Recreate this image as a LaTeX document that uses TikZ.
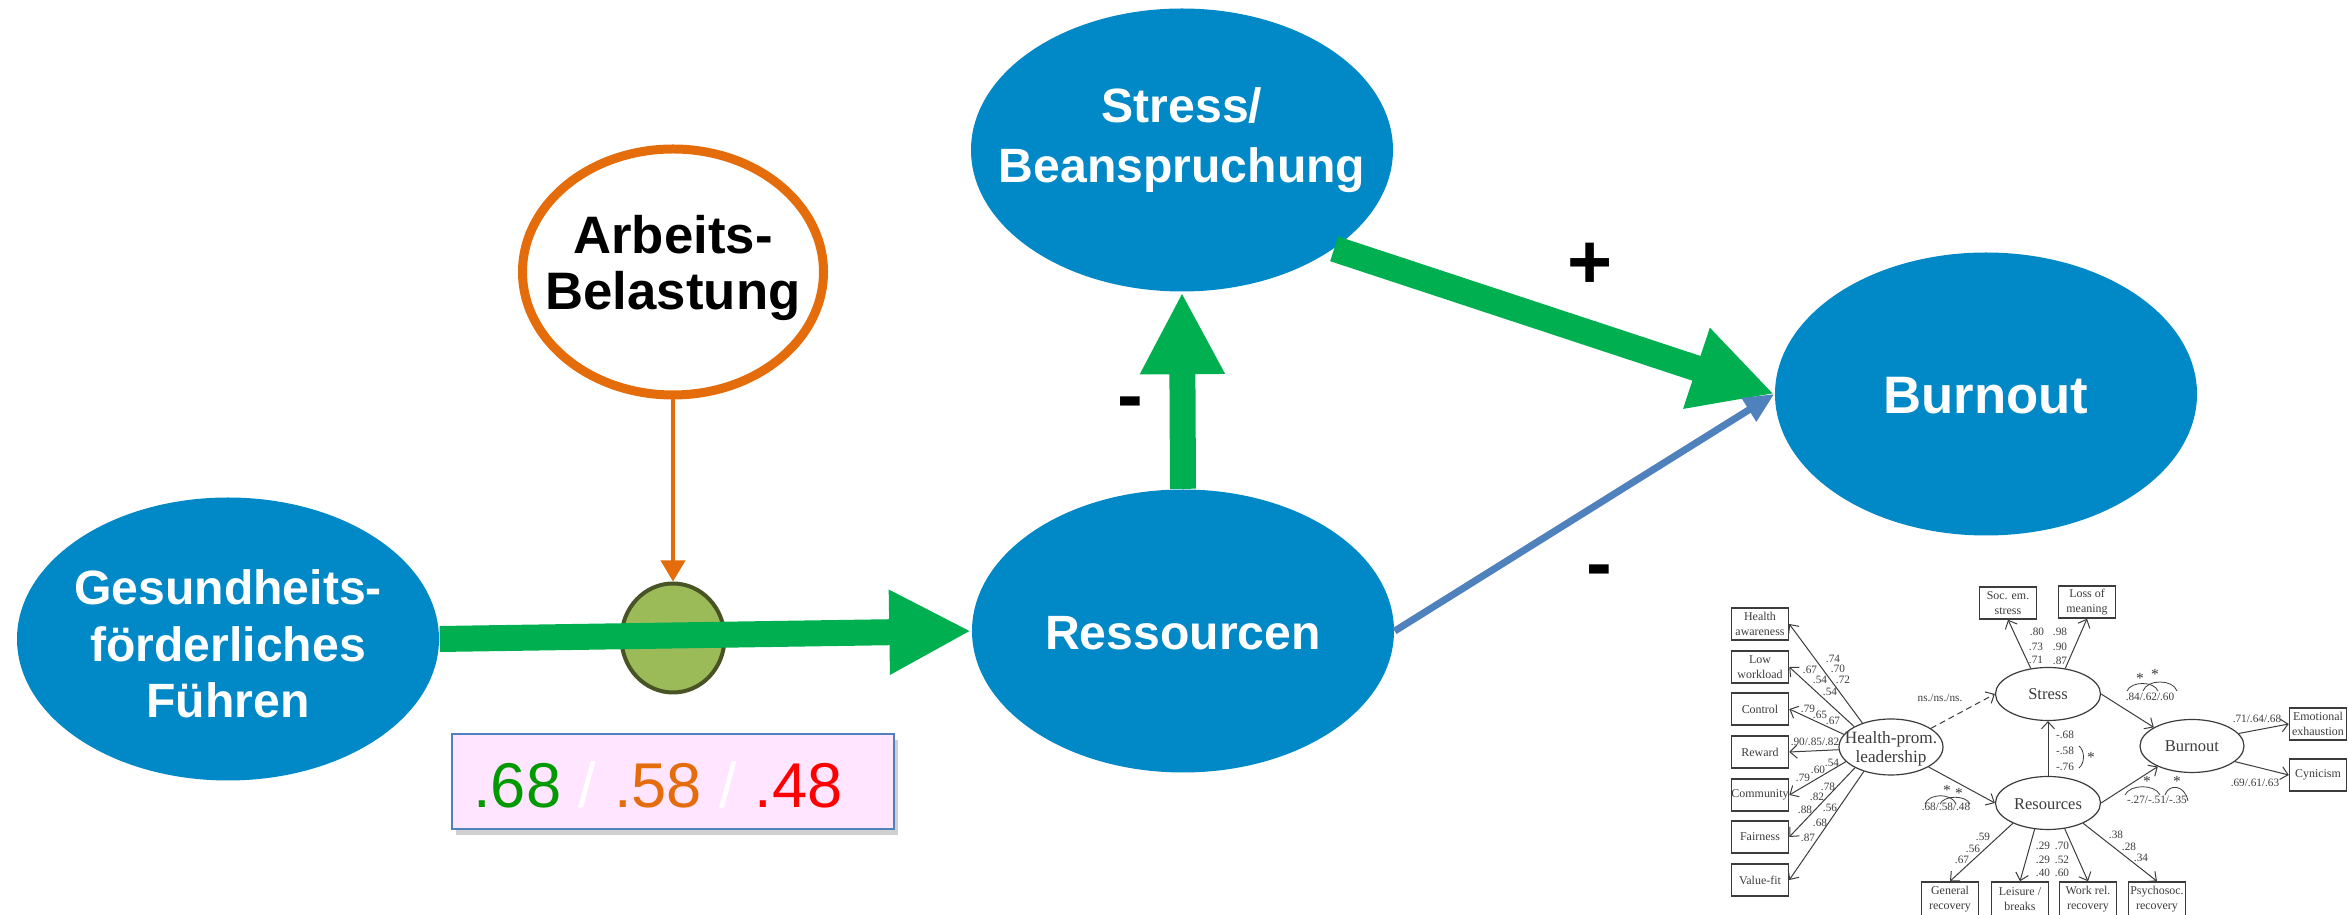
\documentclass[tikz,border=0pt]{standalone}
\usepackage{fontspec}
\setmainfont{Liberation Sans}
\newfontfamily\insetfont{Liberation Serif}
\usetikzlibrary{shapes.geometric,arrows.meta,shadows}
\definecolor{mainblue}{RGB}{0,136,199}
\definecolor{arrowgreen}{RGB}{0,176,80}
\definecolor{workorange}{RGB}{228,108,10}
\definecolor{modgreen}{RGB}{155,187,89}
\definecolor{modborder}{RGB}{72,84,38}
\definecolor{lineblue}{RGB}{79,129,189}
\definecolor{boxpink}{RGB}{255,229,255}
\definecolor{numgreen}{RGB}{0,153,0}
\definecolor{inkgray}{RGB}{60,60,60}
\begin{document}
\begin{tikzpicture}[x=0.1mm,y=-0.1mm,
    construct/.style={ellipse,fill=mainblue,inner sep=0pt,minimum width=42.2mm,minimum height=28.3mm},
    constructtext/.style={text=white,align=center,inner sep=0pt,font=\fontsize{13.7}{16}\selectfont\bfseries},
    bigarrow/.style={arrowgreen,line width=2.6mm,-{Triangle[length=8.2mm,width=7.9mm]}},
    signlabel/.style={anchor=base,inner sep=0pt,font=\fontsize{22}{22}\selectfont\bfseries},
    latent/.style={ellipse,draw=inkgray,line width=0.12mm,inner sep=0pt,minimum width=10.5mm,minimum height=5.3mm},
    latenttext/.style={text=inkgray,align=center,inner sep=0pt,font=\insetfont\fontsize{4.7}{5.4}\selectfont},
    indicator/.style={rectangle,draw=inkgray,line width=0.15mm,inner sep=0pt,minimum width=5.7mm,minimum height=3.2mm,text=inkgray,align=center,font=\insetfont\fontsize{3.4}{4.3}\selectfont},
    semline/.style={inkgray,line width=0.1mm,-{Straight Barb[length=0.7mm,width=1.3mm]}},
    coef/.style={text=inkgray,inner sep=0pt,font=\insetfont\fontsize{3.2}{3.6}\selectfont},
    star/.style={text=inkgray,inner sep=0pt,font=\insetfont\fontsize{4.4}{4.4}\selectfont},
    arcline/.style={inkgray,line width=0.08mm}]
    \fill[white] (0,0) rectangle (2349,915);
    \useasboundingbox (0,0) rectangle (2349,915);

    \node[construct] (gesund) at (228,639) {};
    \node[construct] (ress) at (1183,631) {};
    \node[construct] (stress) at (1182,150) {};
    \node[construct] (burn) at (1986,394) {};
    \node[ellipse,draw=workorange,fill=white,line width=0.9mm,inner sep=0pt,minimum width=30.1mm,minimum height=24.6mm] (arbeit) at (673,272) {};
    \node[ellipse,draw=modborder,fill=modgreen,line width=0.4mm,inner sep=0pt,minimum width=10.3mm,minimum height=10.9mm] (mod) at (673,638) {};

    \node[constructtext] (gesundtext) at (228,644) {Gesundheits-\\förderliches\\Führen};
    \node[constructtext] (resstext) at (1183,633) {Ressourcen};
    \node[constructtext,font=\fontsize{13.7}{17}\selectfont\bfseries] (stresstext) at (1182,140) {Stress/\\Beanspruchung};
    \node[constructtext,font=\fontsize{15}{17}\selectfont\bfseries] (burntext) at (1986,396) {Burnout};
    \node[constructtext,text=black,font=\fontsize{15}{16}\selectfont\bfseries] (arbeittext) at (673,268) {Arbeits-\\Belastung};

    \draw[workorange,line width=0.4mm,-{Triangle[length=2.1mm,width=2.4mm]}] (arbeit.south) -- (mod.north);
    \draw[bigarrow] (gesund.east) -- (ress.west);
    \draw[bigarrow] (ress.north) -- (stress.south);
    \draw[bigarrow] (stress.-33) -- (burn.west);
    \draw[lineblue,line width=0.7mm,-{Triangle[length=3mm,width=2.6mm]}] (ress.east) -- (burn.west);

    \node[signlabel] (plus) at (1590,289) {+};
    \node[signlabel] (minusleft) at (1130,422) {-};
    \node[signlabel] (minusright) at (1599,590) {-};

    \node[rectangle,draw=lineblue,line width=0.2mm,fill=boxpink,minimum width=44.2mm,minimum height=9.5mm,drop shadow={shadow xshift=0.4mm,shadow yshift=-0.6mm,fill=black!60,opacity=0.3}] (coefbox) at (673,782) {};
    \node[inner sep=0pt,font=\fontsize{18}{18}\selectfont] (coefvals) at (658,785) {\textcolor{numgreen}{.68} \textcolor{white}{/} \textcolor{workorange}{.58} \textcolor{white}{/} \textcolor{red}{.48}};

    \node[latent,minimum width=10.4mm,minimum height=5.6mm] (hp) at (1891,747) {};
    \node[latent] (st) at (2048,694) {};
    \node[latent] (re) at (2048,803) {};
    \node[latent,minimum width=10.4mm] (bo) at (2192,746) {};
    \node[latenttext,font=\insetfont\fontsize{4.9}{5.4}\selectfont] (hptext) at (1891,749) {Health-prom.\\leadership};
    \node[latenttext] (sttext) at (2048,694) {Stress};
    \node[latenttext] (retext) at (2048,804) {Resources};
    \node[latenttext] (botext) at (2192,746) {Burnout};

    \node[indicator] (ha) at (1760,624) {Health\\awareness};
    \node[indicator] (lw) at (1760,667) {Low\\workload};
    \node[indicator] (ctrl) at (1760,709) {Control};
    \node[indicator] (rew) at (1760,752) {Reward};
    \node[indicator] (comm) at (1760,795) {Community};
    \node[indicator] (fair) at (1760,837) {Fairness};
    \node[indicator] (vfit) at (1760,880) {Value-fit};
    \node[indicator] (soc) at (2008,603) {Soc. em.\\stress};
    \node[indicator] (loss) at (2087,602) {Loss of\\meaning};
    \node[indicator] (emo) at (2318,724) {Emotional\\exhaustion};
    \node[indicator] (cyn) at (2318,775) {Cynicism};
    \node[indicator,minimum height=3.4mm] (genrec) at (1950,899) {General\\recovery};
    \node[indicator,minimum height=3.4mm] (leis) at (2020,899) {Leisure /\\breaks};
    \node[indicator,minimum height=3.4mm] (work) at (2088,899) {Work rel.\\recovery};
    \node[indicator,minimum height=3.4mm] (psy) at (2157,899) {Psychosoc.\\recovery};

    \draw[semline] (hp.140) -- (ha.east);
    \draw[semline] (hp.151) -- (lw.east);
    \draw[semline] (hp.165) -- (ctrl.east);
    \draw[semline] (hp.183) -- (rew.east);
    \draw[semline] (hp.198) -- (comm.east);
    \draw[semline] (hp.210) -- (fair.east);
    \draw[semline] (hp.222) -- (vfit.east);
    \draw[semline,dash pattern=on 0.6mm off 0.4mm] (hp.25) -- (st.west);
    \draw[semline] (hp.-28) -- (re.west);
    \draw[semline] (st.124) -- (soc.south);
    \draw[semline] (st.56) -- (loss.south);
    \draw[semline] (re.north) -- (st.south);
    \draw[semline] (st.east) -- (bo.154);
    \draw[semline] (re.east) -- (bo.211);
    \draw[semline] (bo.15) -- (emo.west);
    \draw[semline] (bo.-20) -- (cyn.west);
    \draw[semline] (re.210) -- (genrec.north);
    \draw[semline] (re.243) -- (leis.north);
    \draw[semline] (re.303) -- (work.north);
    \draw[semline] (re.330) -- (psy.north);

    \node[coef] (ha1) at (1833,659) {.74};
    \node[coef] (ha2) at (1838,669) {.70};
    \node[coef] (ha3) at (1843,680) {.72};
    \node[coef] (lw1) at (1810,670) {.67};
    \node[coef] (lw2) at (1820,680) {.54};
    \node[coef] (lw3) at (1830,692) {.54};
    \node[coef] (ctrl1) at (1808,709) {.79};
    \node[coef] (ctrl2) at (1820,715) {.65};
    \node[coef] (ctrl3) at (1833,721) {.67};
    \node[coef] (rew1) at (1815,742) {.90/.85/.82};
    \node[coef] (comm1) at (1832,763) {.54};
    \node[coef] (comm2) at (1818,770) {.60};
    \node[coef] (comm3) at (1803,778) {.79};
    \node[coef] (fair1) at (1828,787) {.78};
    \node[coef] (fair2) at (1817,797) {.82};
    \node[coef] (fair3) at (1805,810) {.88};
    \node[coef] (vfit1) at (1830,808) {.56};
    \node[coef] (vfit2) at (1820,823) {.68};
    \node[coef] (vfit3) at (1808,838) {.87};
    \node[coef] (hpst) at (1940,698) {ns./ns./ns.};
    \node[coef] (hpre) at (1946,807) {.68/.58/.48};
    \node[coef] (soc1) at (2037,632) {.80};
    \node[coef] (soc2) at (2036,647) {.73};
    \node[coef] (soc3) at (2036,660) {.71};
    \node[coef] (loss1) at (2060,632) {.98};
    \node[coef] (loss2) at (2060,647) {.90};
    \node[coef] (loss3) at (2060,661) {.87};
    \node[coef] (rest1) at (2065,735) {-.68};
    \node[coef] (rest2) at (2065,751) {-.58};
    \node[coef] (rest3) at (2065,767) {-.76};
    \node[coef] (stbo) at (2150,697) {.84/.62/.60};
    \node[coef] (rebo) at (2157,800) {-.27/-.51/-.35};
    \node[coef] (emo1) at (2257,719) {.71/.64/.68};
    \node[coef] (cyn1) at (2255,783) {.69/.61/.63};
    \node[coef] (gen1) at (1983,837) {.59};
    \node[coef] (gen2) at (1973,849) {.56};
    \node[coef] (gen3) at (1962,860) {.67};
    \node[coef] (leis1) at (2043,846) {.29};
    \node[coef] (leis2) at (2043,860) {.29};
    \node[coef] (leis3) at (2043,873) {.40};
    \node[coef] (work1) at (2062,846) {.70};
    \node[coef] (work2) at (2062,860) {.52};
    \node[coef] (work3) at (2062,873) {.60};
    \node[coef] (psy1) at (2116,835) {.38};
    \node[coef] (psy2) at (2129,847) {.28};
    \node[coef] (psy3) at (2141,858) {.34};

    \draw[arcline] (1925,804) .. controls (1929,793) and (1952,793) .. (1956,804);
    \draw[arcline] (1940,804) .. controls (1944,795) and (1966,795) .. (1970,804);
    \node[star] (hpstar1) at (1947,790) {*};
    \node[star] (hpstar2) at (1959,793) {*};
    \draw[arcline] (2127,691) .. controls (2131,681) and (2154,681) .. (2158,691);
    \draw[arcline] (2143,691) .. controls (2147,679) and (2173,679) .. (2177,691);
    \node[star] (ststar1) at (2140,678) {*};
    \node[star] (ststar2) at (2155,674) {*};
    \draw[arcline] (2125,795) .. controls (2130,784) and (2155,784) .. (2160,795);
    \draw[arcline] (2165,795) .. controls (2169,783) and (2185,785) .. (2188,801);
    \node[star] (restar1) at (2147,781) {*};
    \node[star] (restar2) at (2177,781) {*};
    \draw[arcline] (2079,746) .. controls (2085,751) and (2085,763) .. (2079,768);
    \node[star] (rsstar) at (2091,757) {*};
\end{tikzpicture}
\end{document}
